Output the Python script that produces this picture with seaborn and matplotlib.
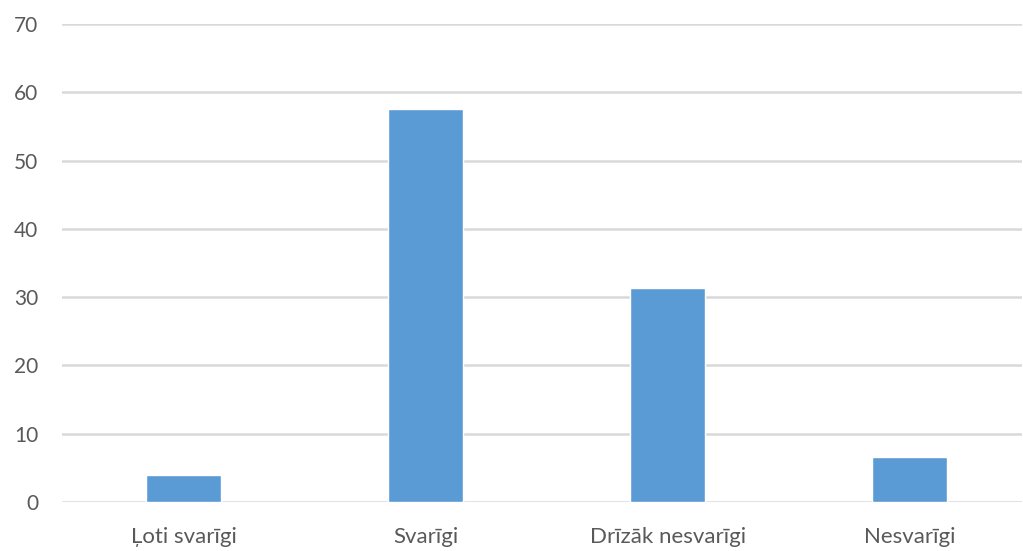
import matplotlib
matplotlib.use("Agg")
import matplotlib.pyplot as plt
import seaborn as sns
import pandas as pd

categories = ["Ļoti svarīgi", "Svarīgi", "Drīzāk nesvarīgi", "Nesvarīgi"]
values = [4.0, 57.5, 31.3, 6.6]
y_ticks = [0, 10, 20, 30, 40, 50, 60, 70]

df = pd.DataFrame({"kategorija": categories, "vertiba": values})

sns.set_theme(style="white")
plt.rcParams["font.family"] = ["Lato", "DejaVu Sans"]

fig = plt.figure(figsize=(10.23, 5.51), dpi=100)
ax = fig.add_axes([62 / 1023, 49 / 551, 960 / 1023, 478 / 551])

sns.barplot(data=df, x="kategorija", y="vertiba", color="#5b9bd5",
            saturation=1, width=0.31, ax=ax, zorder=3)

ax.set_ylim(0, 70)
ax.set_xlim(-0.504, 3.463)
ax.set_yticks(y_ticks)
ax.set_yticklabels([str(t) for t in y_ticks])
ax.grid(axis="y", color="#d9d9d9", linewidth=1.8, zorder=0)
ax.grid(axis="x", visible=False)
for s in ax.spines.values():
    s.set_visible(False)
ax.set_xlabel("")
ax.set_ylabel("")
ax.tick_params(axis="y", length=0, pad=17, labelsize=15, labelcolor="#595959")
ax.tick_params(axis="x", length=0, pad=18, labelsize=16, labelcolor="#595959")

fig.savefig("out.png", dpi=100, facecolor="white")
